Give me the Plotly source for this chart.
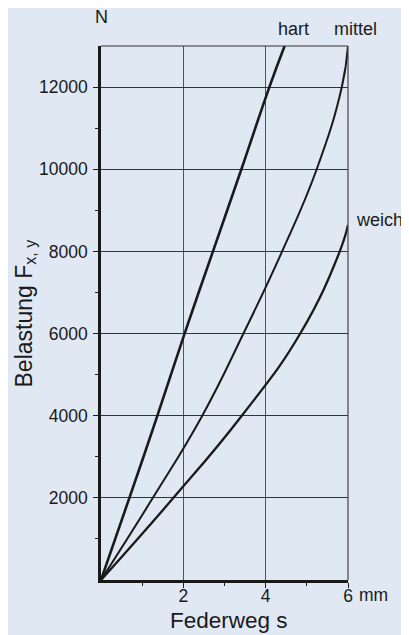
import plotly.graph_objects as go

# Federweg s (mm) vs Belastung F (N)
hart_x = [0, 0.69, 1.37, 2.03, 2.72, 3.41, 4.09, 4.46]
hart_y = [0, 2000, 4000, 6000, 8000, 10000, 12000, 13000]

mittel_x = [0, 1.26, 2.46, 3.46, 4.40, 5.24, 5.85, 6.00]
mittel_y = [0, 2000, 4000, 6000, 8000, 10000, 12000, 13000]

weich_x = [0, 1.76, 3.42, 4.84, 5.80, 6.00]
weich_y = [0, 2000, 4000, 6000, 8000, 8640]

y_ticks = [2000, 4000, 6000, 8000, 10000, 12000]
y_ticklabels = ["2000", "4000", "6000", "8000", "10000", "12000"]
x_ticks = [2, 4, 6]
x_ticklabels = ["2", "4", "6"]

FONT = "Liberation Sans, Arial, sans-serif"
BG = "#e0e8f4"
INK = "#1a1a1a"

# page body has an 8px margin: shrink the figure so it ends at the window edge
OFF = 8
W, H = 409 - OFF, 635 - OFF
L, R, T, B = 101 - OFF, 61, 46 - OFF, 55

fig = go.Figure()
for xs, ys, w in [(hart_x, hart_y, 2.6), (mittel_x, mittel_y, 2.0), (weich_x, weich_y, 2.3)]:
    fig.add_trace(go.Scatter(x=xs, y=ys, mode="lines",
                             line=dict(color=INK, width=w, shape="spline", smoothing=1.3),
                             showlegend=False, hoverinfo="skip"))

fig.update_layout(
    width=W, height=H,
    margin=dict(l=L, r=R, t=T, b=B, autoexpand=False),
    paper_bgcolor=BG, plot_bgcolor=BG,
    font=dict(family=FONT, color=INK, size=17),
    showlegend=False,
)

fig.update_xaxes(
    range=[0, 6], tickvals=x_ticks, ticktext=x_ticklabels,
    showgrid=True, gridcolor="#555", gridwidth=1,
    showline=True, linecolor=INK, linewidth=2.5,
    ticks="outside", ticklen=5, tickwidth=1.2, tickcolor=INK,
    tickfont=dict(size=17.5), ticklabelstandoff=-7,
    minor=dict(tickvals=[1, 3, 5], ticks="outside", ticklen=3, tickcolor=INK, showgrid=False),
    zeroline=False, automargin=False,
    fixedrange=True,
)
fig.update_yaxes(
    range=[0, 13000], tickvals=y_ticks, ticktext=y_ticklabels,
    showgrid=True, gridcolor="#333", gridwidth=1,
    showline=True, linecolor=INK, linewidth=2.5,
    ticks="outside", ticklen=5, tickwidth=1.2, tickcolor=INK,
    tickfont=dict(size=17.5), ticklabelstandoff=2,
    minor=dict(tickvals=[1000, 3000, 5000, 7000, 9000, 11000], ticks="outside",
               ticklen=3, tickcolor=INK, showgrid=False),
    zeroline=False, automargin=False,
    fixedrange=True,
)

# frame lines on top and right
fig.add_shape(type="line", xref="x domain", yref="y domain", x0=0, x1=1, y0=1, y1=1,
              line=dict(color="#333", width=1.2))
fig.add_shape(type="line", xref="x domain", yref="y domain", x0=1, x1=1, y0=0, y1=1,
              line=dict(color="#444", width=1.2))

# axis titles
fig.add_annotation(text="Federweg s", xref="paper", yref="paper", x=0.5, y=0,
                   xshift=4, yshift=-40.5, xanchor="center", yanchor="middle",
                   showarrow=False, font=dict(size=22.5))
fig.add_annotation(text="Belastung F<sub>x, y</sub>", xref="paper", yref="paper", x=0, y=0.5,
                   xshift=-76.5, xanchor="center", yanchor="middle", textangle=-90,
                   showarrow=False, font=dict(size=23))

fig.add_annotation(text="mm", xref="x", yref="paper", x=6, y=0, yshift=-15,
                   xanchor="left", xshift=9, yanchor="middle", showarrow=False,
                   font=dict(size=17.5))
fig.add_annotation(text="N", xref="paper", yref="paper", x=0, y=1, yshift=29.5,
                   xanchor="center", yanchor="middle", showarrow=False,
                   font=dict(size=18))
fig.add_annotation(text="hart", xref="x", yref="y", x=hart_x[-1], y=13000, xshift=9, yshift=17,
                   xanchor="center", yanchor="middle", showarrow=False, font=dict(size=18))
fig.add_annotation(text="mittel", xref="x", yref="y", x=mittel_x[-1], y=13000, xshift=7, yshift=17,
                   xanchor="center", yanchor="middle", showarrow=False, font=dict(size=18))
fig.add_annotation(text="weich", xref="x", yref="y", x=weich_x[-1], y=weich_y[-1], xshift=6, yshift=5,
                   xanchor="left", yanchor="middle", showarrow=False, font=dict(size=18))

fig.write_html("out.html", config={"displayModeBar": False})
